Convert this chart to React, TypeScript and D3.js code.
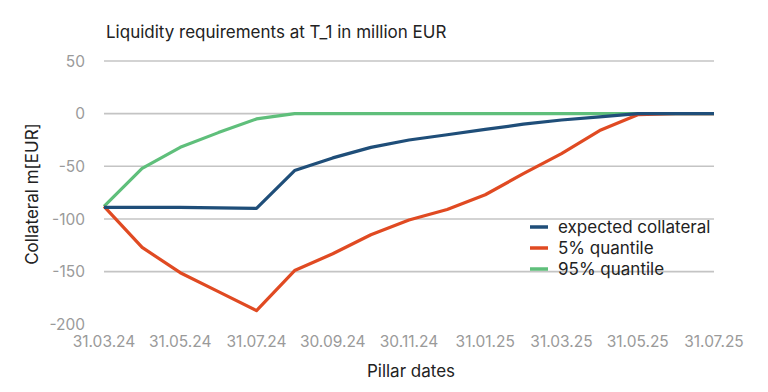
import React from "react";
import * as d3 from "d3";

const dates = [
  "31.03.24", "30.04.24", "31.05.24", "30.06.24", "31.07.24", "31.08.24",
  "30.09.24", "31.10.24", "30.11.24", "31.12.24", "31.01.25", "28.02.25",
  "31.03.25", "30.04.25", "31.05.25", "30.06.25", "31.07.25",
];
const expected = [-89, -89, -89, -89.5, -90, -54, -42, -32, -25, -20, -15, -10, -6, -3, 0, 0, 0];
const q05 = [-88, -127, -151, -169, -187, -149, -133, -115, -101, -91, -77, -57, -38, -16, -1, 0, 0];
const q95 = [-88, -52, -32, -18, -5, 0, 0, 0, 0, 0, 0, 0, 0, 0, 0, 0, 0];
const yTicks = [50, 0, -50, -100, -150, -200];
const xTickLabels = ["31.03.24", "31.05.24", "31.07.24", "30.09.24", "30.11.24", "31.01.25", "31.03.25", "31.05.25", "31.07.25"];

const seriesNames = ["expected collateral", "5% quantile", "95% quantile"];
const colors = ["#1f4e79", "#e04a22", "#5fbf7b"];

const W = 768, H = 392;
const FONT = "Inter, 'Noto Sans', sans-serif";

export default function App() {
  const x = d3.scalePoint<string>().domain(dates).range([104, 714]);
  const y = d3.scaleLinear().domain([-200, 50]).range([324.3, 61]);
  const line = d3.line<number>().x((_, i) => x(dates[i])!).y((d) => y(d));
  const series = [expected, q05, q95];
  const drawOrder = [2, 1, 0];

  return (
    <div style={{ position: "absolute", left: 0, top: 0 }}>
      <svg width={W} height={H} style={{ display: "block", fontFamily: FONT }}>
        <rect width={W} height={H} fill="#fff" />
        <text x={106} y={38} fontSize={17} fill="#222">
          Liquidity requirements at T_1 in million EUR
        </text>
        {yTicks.map((t) => (
          <g key={t}>
            {t > -200 && (
              <line x1={104} x2={714} y1={y(t)} y2={y(t)} stroke="#c4c4c4" strokeWidth={1.6} />
            )}
            <text x={85} y={y(t)} dy="0.36em" textAnchor="end" fontSize={15.5} fill="#9a9a9a">
              {t}
            </text>
          </g>
        ))}
        {xTickLabels.map((l) => (
          <text key={l} x={x(l)} y={346.5} textAnchor="middle" fontSize={15.5} fill="#9a9a9a">
            {l}
          </text>
        ))}
        <text x={411} y={377} textAnchor="middle" fontSize={17} fill="#222">
          Pillar dates
        </text>
        <text
          transform={`translate(38,194) rotate(-90)`}
          textAnchor="middle"
          fontSize={17}
          fill="#222"
        >
          Collateral m[EUR]
        </text>
        {drawOrder.map((si) => (
          <path
            key={si}
            d={line(series[si]) || ""}
            fill="none"
            stroke={colors[si]}
            strokeWidth={3.2}
            strokeLinejoin="round"
          />
        ))}
        {seriesNames.map((n, i) => (
          <g key={n} transform={`translate(530,${227 + i * 21})`}>
            <line x1={0} x2={18} y1={0} y2={0} stroke={colors[i]} strokeWidth={3.5} />
            <text x={28} y={0} dy="0.36em" fontSize={17} fill="#222">
              {n}
            </text>
          </g>
        ))}
      </svg>
    </div>
  );
}
